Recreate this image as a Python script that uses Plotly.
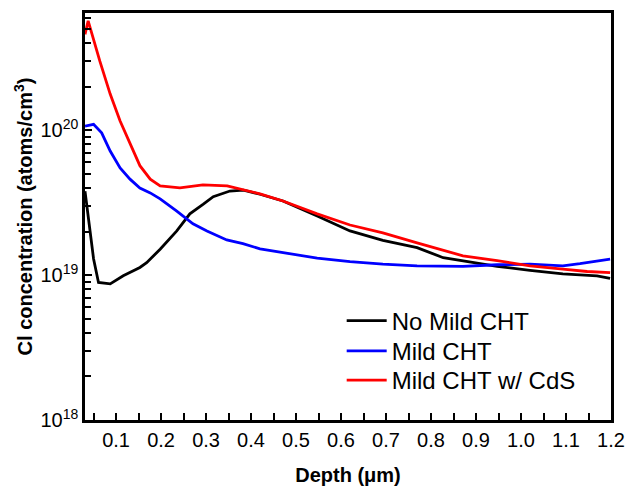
import plotly.graph_objects as go

# Depth (um) and Cl concentration (atoms/cm^3)
depth_no = [0.031, 0.038, 0.05, 0.061, 0.076, 0.087, 0.116, 0.153, 0.168, 0.198, 0.235, 0.264,
            0.294, 0.316, 0.353, 0.383, 0.42, 0.471, 0.547, 0.62, 0.693, 0.769, 0.827, 0.871,
            0.947, 1.02, 1.093, 1.169, 1.198]
conc_no = [3.8e19, 2.48e19, 1.30e19, 8.9e18, 8.75e18, 8.7e18, 9.9e18, 1.13e19, 1.22e19, 1.51e19,
           2.02e19, 2.65e19, 3.09e19, 3.48e19, 3.81e19, 3.86e19, 3.62e19, 3.25e19, 2.56e19, 2.02e19,
           1.74e19, 1.55e19, 1.32e19, 1.26e19, 1.15e19, 1.08e19, 1.02e19, 9.9e18, 9.5e18]

depth_mild = [0.031, 0.05, 0.068, 0.087, 0.109, 0.131, 0.153, 0.176, 0.198, 0.235, 0.271, 0.302,
              0.346, 0.382, 0.42, 0.471, 0.547, 0.62, 0.693, 0.769, 0.827, 0.871, 0.947, 1.02,
              1.093, 1.131, 1.198]
conc_mild = [1.07e20, 1.1e20, 9.6e19, 7.2e19, 5.5e19, 4.6e19, 4.0e19, 3.7e19, 3.36e19, 2.77e19,
             2.26e19, 2.02e19, 1.75e19, 1.65e19, 1.52e19, 1.43e19, 1.31e19, 1.24e19, 1.19e19,
             1.16e19, 1.16e19, 1.15e19, 1.18e19, 1.19e19, 1.16e19, 1.2e19, 1.29e19]

depth_cds = [0.031, 0.038, 0.064, 0.087, 0.109, 0.131, 0.153, 0.176, 0.198, 0.242, 0.293, 0.347,
             0.42, 0.471, 0.547, 0.62, 0.693, 0.769, 0.827, 0.871, 0.947, 1.02, 1.093, 1.147, 1.198]
conc_cds = [4.6e20, 5.7e20, 3.0e20, 1.78e20, 1.16e20, 8.05e19, 5.7e19, 4.6e19, 4.13e19, 4.0e19,
            4.2e19, 4.13e19, 3.64e19, 3.25e19, 2.65e19, 2.22e19, 1.96e19, 1.67e19, 1.49e19,
            1.36e19, 1.26e19, 1.16e19, 1.10e19, 1.06e19, 1.04e19]

series_names = ["No Mild CHT", "Mild CHT", "Mild CHT w/ CdS"]
x_ticks = [0.1, 0.2, 0.3, 0.4, 0.5, 0.6, 0.7, 0.8, 0.9, 1.0, 1.1, 1.2]
x_tick_text = ["0.1", "0.2", "0.3", "0.4", "0.5", "0.6", "0.7", "0.8", "0.9", "1.0", "1.1", "1.2"]
y_ticks = [1e18, 1e19, 1e20]
y_tick_text = ["10<sup>18</sup>", "10<sup>19</sup>", "10<sup>20</sup>"]

FONT = "Liberation Sans, Arial, sans-serif"

fig = go.Figure()
legend_ids = ["legend", "legend2", "legend3"]
for xs, ys, name, color, lg in [(depth_no, conc_no, series_names[0], "#000000", legend_ids[0]),
                                (depth_mild, conc_mild, series_names[1], "#0000ff", legend_ids[1]),
                                (depth_cds, conc_cds, series_names[2], "#ff0000", legend_ids[2])]:
    fig.add_trace(go.Scatter(x=xs, y=ys, mode="lines", name=name, legend=lg,
                             line=dict(color=color, width=2.8)))

legend_style = dict(x=0.488, xanchor="left", yanchor="middle",
                    bgcolor="rgba(0,0,0,0)", font=dict(size=24, family=FONT),
                    itemwidth=40)

fig.update_layout(
    width=628, height=486,
    margin=dict(l=85, r=17, t=13, b=66),
    paper_bgcolor="white", plot_bgcolor="white",
    font=dict(family=FONT, color="black"),
    showlegend=True,
    legend=dict(y=0.243, **legend_style),
    legend2=dict(y=0.169, **legend_style),
    legend3=dict(y=0.097, **legend_style),
    xaxis=dict(range=[0.031, 1.2], tickvals=x_ticks, ticktext=x_tick_text,
               automargin=False,
               ticks="inside", ticklen=7, tickwidth=2, tickcolor="black",
               showline=True, linecolor="black", linewidth=2.5, mirror=True,
               showgrid=False, zeroline=False,
               tickfont=dict(size=20, family=FONT),
               minor=dict(dtick=0.05, tick0=0.05, ticks="inside", ticklen=7, tickwidth=2,
                          tickcolor="black", showgrid=False),
               title=dict(text="<b>Depth (μm)</b>", font=dict(size=20, family=FONT), standoff=21)),
    yaxis=dict(type="log", range=[18, 20.81], tickvals=y_ticks, ticktext=y_tick_text,
               automargin=False,
               ticks="inside", ticklen=7, tickwidth=2, tickcolor="black",
               showline=True, linecolor="black", linewidth=2.5, mirror=True,
               showgrid=False, zeroline=False,
               tickfont=dict(size=20, family=FONT),
               minor=dict(dtick="D1", ticks="inside", ticklen=6, tickwidth=2,
                          tickcolor="black", showgrid=False),
               title=dict(text="<b>Cl concentration (atoms/cm<sup>3</sup>)</b>",
                          font=dict(size=20, family=FONT), standoff=3)),
)

fig.write_html("out.html", config={"displayModeBar": False},
               post_script="document.body.style.margin='0';document.body.style.padding='0';")
